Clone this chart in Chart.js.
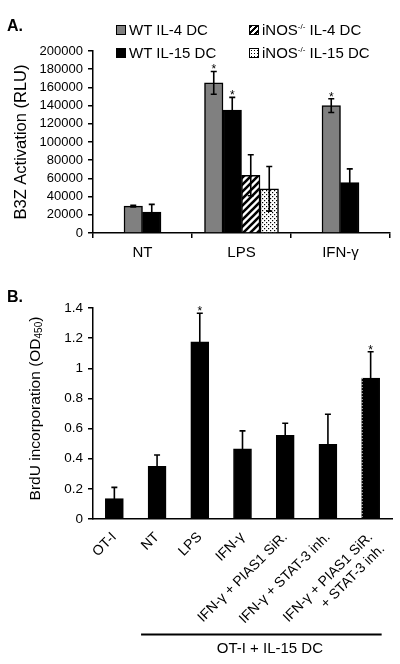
<!DOCTYPE html>
<html>
<head>
<meta charset="utf-8">
<script src="https://cdn.jsdelivr.net/npm/chart.js@4.4.0/dist/chart.umd.min.js"></script>
<style>
  body { margin: 0; background: #fff; font-family: "Liberation Sans", Arial, sans-serif; color: #000; }
  #wrap { position: relative; width: 400px; height: 664px; overflow: hidden; }
  canvas { position: absolute; left: 0; }
  .panel { position: absolute; font-weight: bold; font-size: 16px; }
  .leg { position: absolute; font-size: 15px; line-height: 17px; white-space: nowrap; }
  .leg i { display: inline-block; width: 8px; height: 8px; border: 1px solid #000; margin-right: 3px; vertical-align: 0px; }
  .leg sup { font-size: 8px; vertical-align: 6px; line-height: 0; }
  .ytitle { position: absolute; width: 240px; text-align: center; font-size: 15.5px; line-height: 17px; transform: rotate(-90deg); white-space: nowrap; }
  .ytitle sub { font-size: 10px; vertical-align: -2px; line-height: 0; }
</style>
</head>
<body>
<div id="wrap">
  <canvas id="chartA" width="400" height="275" style="top:0"></canvas>
  <canvas id="chartB" width="400" height="384" style="top:280px"></canvas>

  <div class="panel" style="left:7px;top:17px">A.</div>
  <div class="panel" style="left:7px;top:288px">B.</div>

  <div class="leg" style="left:116px;top:21px"><i style="background:#808080"></i>WT IL-4 DC</div>
  <div class="leg" style="left:116px;top:44px"><i style="background:#000"></i>WT IL-15 DC</div>
  <div class="leg" style="left:249px;top:21px"><i style="background:repeating-linear-gradient(135deg,#000 0 2px,#fff 2px 4px)"></i>iNOS<sup>-/-</sup> IL-4 DC</div>
  <div class="leg" style="left:249px;top:44px"><i style="background:radial-gradient(#000 0.8px,#fff 1px) 0 0/3px 3px"></i>iNOS<sup>-/-</sup> IL-15 DC</div>

  <div class="ytitle" style="left:-86px;top:400px">BrdU incorporation (OD<sub>450</sub>)</div>
</div>

<script>
// ---- panel A: B3Z activation ----
const categoriesA = ['NT', 'LPS', 'IFN-\u03b3'];
const wtIL4 = [29500, 165000, 140000];
const wtIL15 = [23000, 135000, 55500];
const inosIL4 = [null, 63500, null];
const inosIL15 = [null, 48500, null];
const wtIL4Err = [1000, 12500, 7500];
const wtIL15Err = [8500, 14000, 15000];
const inosIL4Err = [0, 22500, 0];
const inosIL15Err = [0, 24500, 0];
const wtIL4Star = [false, true, true];
const wtIL15Star = [false, true, false];
const yTicksA = [0, 20000, 40000, 60000, 80000, 100000, 120000, 140000, 160000, 180000, 200000];

// ---- panel B: BrdU incorporation ----
const categoriesB = ['OT-I', 'NT', 'LPS', 'IFN-\u03b3', 'IFN-\u03b3 + PIAS1 SiR.', 'IFN-\u03b3 + STAT-3 inh.',
  ['IFN-\u03b3 + PIAS1 SiR.', '+ STAT-3 inh.']];
const brdu = [0.135, 0.35, 1.175, 0.465, 0.555, 0.495, 0.935];
const brduErr = [0.075, 0.075, 0.19, 0.12, 0.08, 0.2, 0.175];
const brduStar = [false, false, true, false, false, false, true];
const yTicksB = [0, 0.2, 0.4, 0.6, 0.8, 1, 1.2, 1.4];

const FONT = '"Liberation Sans", Arial, sans-serif';

function makePattern(kind) {
  const c = document.createElement('canvas');
  const s = kind === 'hatch' ? 7 : 4;
  c.width = s; c.height = s;
  const g = c.getContext('2d');
  g.fillStyle = '#fff';
  g.fillRect(0, 0, s, s);
  g.fillStyle = '#000';
  g.strokeStyle = '#000';
  if (kind === 'hatch') {
    g.lineWidth = 2.6;
    g.beginPath();
    g.moveTo(-1, s + 1); g.lineTo(s + 1, -1);
    g.moveTo(-1, 1); g.lineTo(1, -1);
    g.moveTo(s - 1, s + 1); g.lineTo(s + 1, s - 1);
    g.stroke();
  } else {
    g.fillRect(0, 0, 1.2, 1.2);
    g.fillRect(2, 2, 1.2, 1.2);
  }
  return g.createPattern(c, 'repeat');
}

function errorPlugin(errors, stars) {
  return {
    id: 'errorBars',
    afterDatasetsDraw(chart) {
      const ctx = chart.ctx;
      const y = chart.scales.y;
      ctx.save();
      ctx.strokeStyle = '#000';
      ctx.fillStyle = '#000';
      ctx.lineWidth = 1.6;
      ctx.font = '12px ' + FONT;
      ctx.textAlign = 'center';
      ctx.textBaseline = 'alphabetic';
      chart.data.datasets.forEach((ds, i) => {
        const meta = chart.getDatasetMeta(i);
        ds.data.forEach((v, j) => {
          if (v == null) return;
          const e = errors[i][j];
          const x = meta.data[j].x;
          const top = y.getPixelForValue(v + e);
          const bot = y.getPixelForValue(v - e);
          if (e > 0) {
            ctx.beginPath();
            ctx.moveTo(x, top); ctx.lineTo(x, bot);
            ctx.moveTo(x - 3, top); ctx.lineTo(x + 3, top);
            ctx.moveTo(x - 3, bot); ctx.lineTo(x + 3, bot);
            ctx.stroke();
          }
          if (stars[i] && stars[i][j]) ctx.fillText('*', x, top + 2);
        });
      });
      ctx.restore();
    }
  };
}

// ---------- chart A ----------
new Chart(document.getElementById('chartA'), {
  type: 'bar',
  data: {
    labels: categoriesA,
    datasets: [
      { label: 'WT IL-4 DC', data: wtIL4, backgroundColor: '#808080' },
      { label: 'WT IL-15 DC', data: wtIL15, backgroundColor: '#000' },
      { label: 'iNOS-/- IL-4 DC', data: inosIL4, backgroundColor: makePattern('hatch') },
      { label: 'iNOS-/- IL-15 DC', data: inosIL15, backgroundColor: makePattern('dots') }
    ]
  },
  options: {
    responsive: false,
    animation: false,
    layout: { padding: { top: 51, right: 10, left: 0, bottom: 10 } },
    datasets: { bar: { borderColor: '#000', borderWidth: 1.5, barThickness: 18.5, skipNull: true } },
    plugins: { legend: { display: false }, tooltip: { enabled: false } },
    scales: {
      x: {
        afterFit: s => { s.height = 32; },
        grid: { offset: true, drawOnChartArea: false, color: '#000', lineWidth: 1.5, tickLength: 5 },
        border: { color: '#000', width: 1.5 },
        ticks: { color: '#000', font: { family: FONT, size: 15 }, padding: 6 }
      },
      y: {
        min: 0, max: 200000,
        afterFit: s => { s.width = 93; },
        afterBuildTicks: s => { s.ticks = yTicksA.map(v => ({ value: v })); },
        grid: { drawOnChartArea: false, color: '#000', lineWidth: 1.5, tickLength: 5 },
        border: { color: '#000', width: 1.5 },
        ticks: { color: '#000', font: { family: FONT, size: 13 }, padding: 5, autoSkip: false, callback: v => String(v) },
        title: { display: true, text: 'B3Z Activation (RLU)', color: '#000', font: { family: FONT, size: 16.5 }, padding: { top: 11.5, bottom: 0 } }
      }
    }
  },
  plugins: [errorPlugin([wtIL4Err, wtIL15Err, inosIL4Err, inosIL15Err], [wtIL4Star, wtIL15Star])]
});

// ---------- chart B ----------
const groupLine = {
  id: 'groupLine',
  afterDraw(chart) {
    const ctx = chart.ctx;
    const x = chart.scales.x;
    const yb = chart.chartArea.bottom;
    // dotted white edge on last bar
    const last = chart.getDatasetMeta(0).data[6];
    ctx.save();
    ctx.strokeStyle = '#fff';
    ctx.lineWidth = 1;
    ctx.setLineDash([1, 2]);
    ctx.beginPath();
    ctx.moveTo(last.x - last.width / 2 + 0.5, last.y);
    ctx.lineTo(last.x - last.width / 2 + 0.5, yb);
    ctx.stroke();
    ctx.setLineDash([]);
    // bracket line + group label
    ctx.strokeStyle = '#000';
    ctx.lineWidth = 2;
    ctx.beginPath();
    ctx.moveTo(x.getPixelForValue(1) - 16, yb + 115.5);
    ctx.lineTo(x.getPixelForValue(6) + 11, yb + 115.5);
    ctx.stroke();
    ctx.fillStyle = '#000';
    ctx.font = '15px ' + FONT;
    ctx.textAlign = 'center';
    ctx.textBaseline = 'middle';
    ctx.fillText('OT-I + IL-15 DC', (x.getPixelForValue(1) + x.getPixelForValue(6)) / 2 + 6, yb + 130);
    ctx.restore();
  }
};

new Chart(document.getElementById('chartB'), {
  type: 'bar',
  data: {
    labels: categoriesB,
    datasets: [{ label: 'BrdU', data: brdu, backgroundColor: '#000', borderColor: '#000', borderWidth: 1, barThickness: 18 }]
  },
  options: {
    responsive: false,
    animation: false,
    layout: { padding: { top: 28, right: 8, left: 0, bottom: 20 } },
    plugins: { legend: { display: false }, tooltip: { enabled: false } },
    scales: {
      x: {
        afterFit: s => { s.height = 125; },
        grid: { display: false },
        border: { color: '#000', width: 1.5 },
        ticks: { color: '#000', font: { family: FONT, size: 14 }, minRotation: 45, maxRotation: 45, padding: 2, autoSkip: false }
      },
      y: {
        min: 0, max: 1.4,
        afterFit: s => { s.width = 93; },
        afterBuildTicks: s => { s.ticks = yTicksB.map(v => ({ value: v })); },
        grid: { drawOnChartArea: false, color: '#000', lineWidth: 1.5, tickLength: 5 },
        border: { color: '#000', width: 1.5 },
        ticks: { color: '#000', font: { family: FONT, size: 13.5 }, padding: 5, autoSkip: false, callback: v => String(v) }
      }
    }
  },
  plugins: [errorPlugin([brduErr], [brduStar]), groupLine]
});
</script>
</body>
</html>
